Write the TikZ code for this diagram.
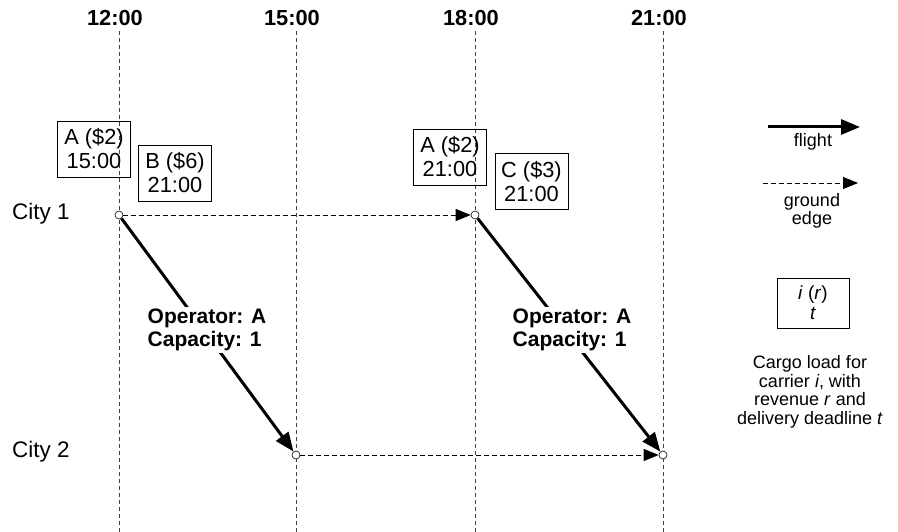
\documentclass[tikz,border=0pt]{standalone}
\usepackage{fontspec}
\setmainfont{Liberation Sans}
\usetikzlibrary{arrows.meta}
\begin{document}
\begin{tikzpicture}[x=1pt,y=-1pt,
  timeline/.style={draw=black!75,line width=0.9pt,dash pattern=on 4pt off 3pt},
  timelabel/.style={font=\fontsize{21.8}{24}\selectfont\bfseries},
  citylabel/.style={font=\fontsize{22.5}{24}\selectfont,anchor=west,inner sep=0pt},
  cargobox/.style={draw,line width=0.8pt,align=center,minimum width=73pt,minimum height=56pt,inner sep=0pt,font=\fontsize{21.8}{24}\selectfont},
  stop/.style={circle,draw,fill=white,line width=0.6pt,minimum size=8pt,inner sep=0pt},
  flight/.style={line width=3pt,-{Triangle[length=19pt,width=15pt]}},
  ground/.style={line width=0.9pt,dash pattern=on 5pt off 3pt,-{Triangle[length=15pt,width=12pt]}},
  oplabel/.style={fill=white,align=left,inner sep=2pt,font=\fontsize{21}{23}\selectfont\bfseries},
  legendtext/.style={align=center,font=\fontsize{18}{18.5}\selectfont,inner sep=0pt}
]
\useasboundingbox (0,0) rectangle (898,532);
% time lines
\coordinate (t1a) at (119,31); \coordinate (t1b) at (119,532);
\coordinate (t2a) at (296,31); \coordinate (t2b) at (296,532);
\coordinate (t3a) at (475,31); \coordinate (t3b) at (475,532);
\coordinate (t4a) at (663,31); \coordinate (t4b) at (663,532);
\draw[timeline] (t1a) -- (t1b);
\draw[timeline] (t2a) -- (t2b);
\draw[timeline] (t3a) -- (t3b);
\draw[timeline] (t4a) -- (t4b);
\node[timelabel] (l1) at (115,18) {12:00};
\node[timelabel] (l2) at (292,18) {15:00};
\node[timelabel] (l3) at (471,18) {18:00};
\node[timelabel] (l4) at (659,18) {21:00};
% cities
\node[citylabel] (city1) at (12,214) {City 1};
\node[citylabel] (city2) at (12,452) {City 2};
% cargo boxes
\node[cargobox] (ba) at (94,149) {A (\$2)\\15:00};
\node[cargobox] (bb) at (175,173) {B (\$6)\\21:00};
\node[cargobox] (bc) at (450,157) {A (\$2)\\21:00};
\node[cargobox] (bd) at (531.5,181.5) {C (\$3)\\21:00};
% stops
\node[stop] (c1) at (119,215) {};
\node[stop] (c3) at (475,215) {};
\node[stop] (c2) at (296,455) {};
\node[stop] (c4) at (663,455) {};
% edges
\draw[ground] (c1) -- (c3);
\draw[ground] (c2) -- (c4);
\draw[flight] (c1) -- (c2);
\draw[flight] (c3) -- (c4);
\node[oplabel] (op1) at (207,330) {Operator: A\\Capacity: 1};
\node[oplabel] (op2) at (572,330) {Operator: A\\Capacity: 1};
% legend
\coordinate (lf1) at (768,127); \coordinate (lf2) at (860,127);
\draw[flight] (lf1) -- (lf2);
\node[legendtext] (lft) at (813,142) {flight};
\coordinate (lg1) at (763,183); \coordinate (lg2) at (858,183);
\draw[ground] (lg1) -- (lg2);
\node[legendtext] (lgt) at (812,211) {ground\\edge};
\node[cargobox,minimum width=72pt,minimum height=50pt,font=\fontsize{19}{20}\selectfont] (lbox) at (813,303) {\textit{i} (\textit{r})\\\textit{t}};
\node[legendtext] (ldesc) at (810,392) {Cargo load for\\carrier \textit{i}, with\\revenue \textit{r} and\\delivery deadline \textit{t}};
\end{tikzpicture}
\end{document}
